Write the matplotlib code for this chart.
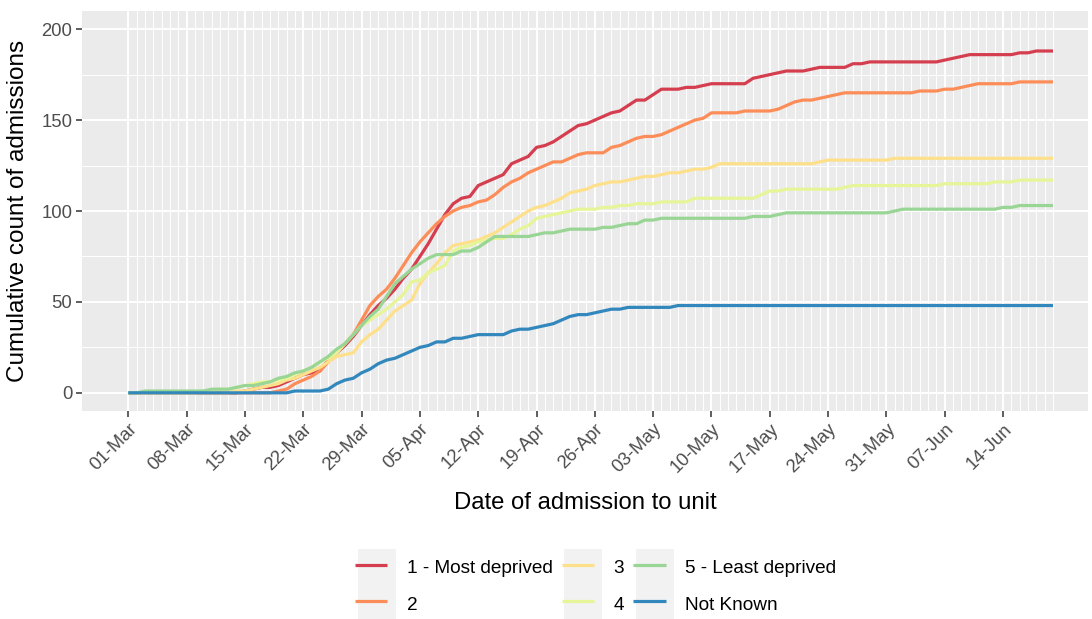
import matplotlib
matplotlib.use("Agg")
import matplotlib.pyplot as plt
import matplotlib.dates as mdates
from matplotlib.legend_handler import HandlerLine2D
from matplotlib.patches import Rectangle
from matplotlib.ticker import FixedLocator
import pandas as pd

start = "2020-03-01"
n_days = 112

most_deprived = [0]*14 + [
    1, 2, 3, 3, 4, 6, 8, 10, 11, 12,
    18, 22, 26, 31, 37, 43, 48, 52, 57, 63,
    68, 75, 82, 90, 98, 104, 107, 108, 114, 116,
    118, 120, 126, 128, 130, 135, 136, 138, 141, 144,
    147, 148, 150, 152, 154, 155, 158, 161, 161, 164,
    167, 167, 167, 168, 168, 169, 170, 170, 170, 170,
    170, 173, 174, 175, 176, 177, 177, 177, 178, 179,
    179, 179, 179, 181, 181, 182, 182, 182, 182, 182,
    182, 182, 182, 182, 183, 184, 185, 186, 186, 186,
    186, 186, 186, 187, 187, 188, 188, 188]

q2 = [0]*18 + [
    1, 2, 5, 7, 9, 12, 17, 22, 27, 32,
    40, 48, 53, 57, 63, 70, 77, 83, 88, 93,
    97, 100, 102, 103, 105, 106, 109, 113, 116, 118,
    121, 123, 125, 127, 127, 129, 131, 132, 132, 132,
    135, 136, 138, 140, 141, 141, 142, 144, 146, 148,
    150, 151, 154, 154, 154, 154, 155, 155, 155, 155,
    156, 158, 160, 161, 161, 162, 163, 164, 165, 165,
    165, 165, 165, 165, 165, 165, 165, 166, 166, 166,
    167, 167, 168, 169, 170, 170, 170, 170, 170, 171,
    171, 171, 171, 171]

q3 = [0]*13 + [
    1, 1, 2, 3, 4, 5, 7, 8, 10, 12, 14, 17,
    20, 21, 22, 28, 32, 35, 40, 45, 48, 51,
    60, 66, 71, 77, 81, 82, 83, 84, 86, 88,
    91, 94, 97, 100, 102, 103, 105, 107, 110, 111,
    112, 114, 115, 116, 116, 117, 118, 119, 119, 120,
    121, 121, 122, 123, 123, 124, 126, 126, 126, 126,
    126, 126, 126, 126, 126, 126, 126, 126, 127, 128,
    128, 128, 128, 128, 128, 128, 128, 129, 129, 129,
    129, 129, 129, 129, 129, 129, 129, 129, 129, 129,
    129, 129, 129, 129, 129, 129, 129]

q4 = [0]*9 + [
    1, 1, 2, 2, 3, 4, 5, 6, 6, 7,
    8, 10, 12, 14, 17, 19, 22, 27, 32, 37,
    40, 43, 46, 50, 54, 61, 62, 66, 68, 70,
    78, 80, 81, 83, 84, 85, 85, 87, 90, 92,
    96, 97, 98, 99, 100, 101, 101, 101, 102, 102,
    103, 103, 104, 104, 104, 105, 105, 105, 105, 107,
    107, 107, 107, 107, 107, 107, 107, 109, 111, 111,
    112, 112, 112, 112, 112, 112, 112, 113, 114, 114,
    114, 114, 114, 114, 114, 114, 114, 114, 114, 115,
    115, 115, 115, 115, 115, 116, 116, 116, 117, 117,
    117, 117, 117]

least_deprived = [0, 0,
    1, 1, 1, 1, 1, 1, 1, 1, 2, 2,
    2, 3, 4, 4, 5, 6, 8, 9, 11, 12,
    14, 17, 20, 24, 27, 32, 37, 42, 46, 53,
    60, 64, 68, 71, 74, 76, 76, 76, 78, 78,
    80, 83, 86, 86, 86, 86, 86, 87, 88, 88,
    89, 90, 90, 90, 90, 91, 91, 92, 93, 93,
    95, 95, 96, 96, 96, 96, 96, 96, 96, 96,
    96, 96, 96, 97, 97, 97, 98, 99, 99, 99,
    99, 99, 99, 99, 99, 99, 99, 99, 99, 99,
    100, 101, 101, 101, 101, 101, 101, 101, 101, 101,
    101, 101, 101, 102, 102, 103, 103, 103, 103, 103]

not_known = [0]*20 + [
    1, 1, 1, 1, 2, 5, 7, 8, 11, 13,
    16, 18, 19, 21, 23, 25, 26, 28, 28, 30,
    30, 31, 32, 32, 32, 32, 34, 35, 35, 36,
    37, 38, 40, 42, 43, 43, 44, 45, 46, 46,
    47, 47, 47, 47, 47, 47, 48, 48, 48, 48] + [48]*42

labels = ["1 - Most deprived", "2", "3", "4", "5 - Least deprived", "Not Known"]
series = [most_deprived, q2, q3, q4, least_deprived, not_known]
colors = ["#D53E4F", "#FC8D59", "#FEE08B", "#E6F598", "#99D594", "#3288BD"]

dates = pd.date_range(start, periods=n_days, freq="D")

plt.rcParams["font.family"] = ["Liberation Sans", "DejaVu Sans"]

W, H = 1092, 619
fig = plt.figure(figsize=(W/100, H/100), dpi=100)
ax = fig.add_axes([82/W, 1-411/H, (1088-82)/W, 400/H])
ax.set_facecolor("#EBEBEB")
for s in ax.spines.values():
    s.set_visible(False)

for vals, lab, col in zip(series, labels, colors):
    ax.plot(dates, vals, color=col, lw=2.3, label=lab, solid_capstyle="butt", zorder=3)

d0 = mdates.date2num(dates[0])
ax.set_xlim(d0 - 5.56, d0 + 115.2)
ax.set_ylim(-10, 210)

major = [mdates.date2num(d) for d in dates[::7]]
minor = [mdates.date2num(d) for d in dates]
ax.xaxis.set_major_locator(FixedLocator(major))
ax.xaxis.set_minor_locator(FixedLocator(minor))
ax.xaxis.set_major_formatter(mdates.DateFormatter("%d-%b"))
ax.yaxis.set_major_locator(FixedLocator([0, 50, 100, 150, 200]))
ax.yaxis.set_minor_locator(FixedLocator([25, 75, 125, 175]))

ax.grid(which="major", color="white", lw=1.4, zorder=1)
ax.grid(which="minor", color="white", lw=0.7, zorder=1)
ax.set_axisbelow(True)

ax.tick_params(axis="both", which="major", length=4, width=1.1, color="#333333",
               labelcolor="#4D4D4D", labelsize=13.3, pad=3)
ax.tick_params(axis="both", which="minor", length=0)
for lbl in ax.get_xticklabels():
    lbl.set_rotation(45)
    lbl.set_ha("right")
    lbl.set_va("top")
    lbl.set_rotation_mode("anchor")

ax.set_xlabel("Date of admission to unit", fontsize=17.2, color="black", labelpad=11)
ax.set_ylabel("Cumulative count of admissions", fontsize=17.5, color="black", labelpad=9)


class KeyHandler(HandlerLine2D):
    def create_artists(self, legend, orig_handle, xdescent, ydescent, width, height, fontsize, trans):
        sp = legend.labelspacing * fontsize
        rect = Rectangle((-xdescent, -ydescent - sp/2), width, height + sp,
                         facecolor="#F2F2F2", edgecolor="none", transform=trans)
        arts = super().create_artists(legend, orig_handle, xdescent + 2, ydescent,
                                      width - 4, height, fontsize, trans)
        return [rect] + arts


handles, labs = ax.get_legend_handles_labels()
leg = fig.legend(handles, labs, loc="center", bbox_to_anchor=(597/W, 1-585/H),
                 ncol=3, frameon=False, fontsize=13.7, handlelength=2.0,
                 handleheight=1.3, labelspacing=0.82, handletextpad=0.6,
                 columnspacing=0.6, borderpad=0,
                 handler_map={h: KeyHandler() for h in handles})

fig.savefig("out.png", dpi=100, facecolor="white")
